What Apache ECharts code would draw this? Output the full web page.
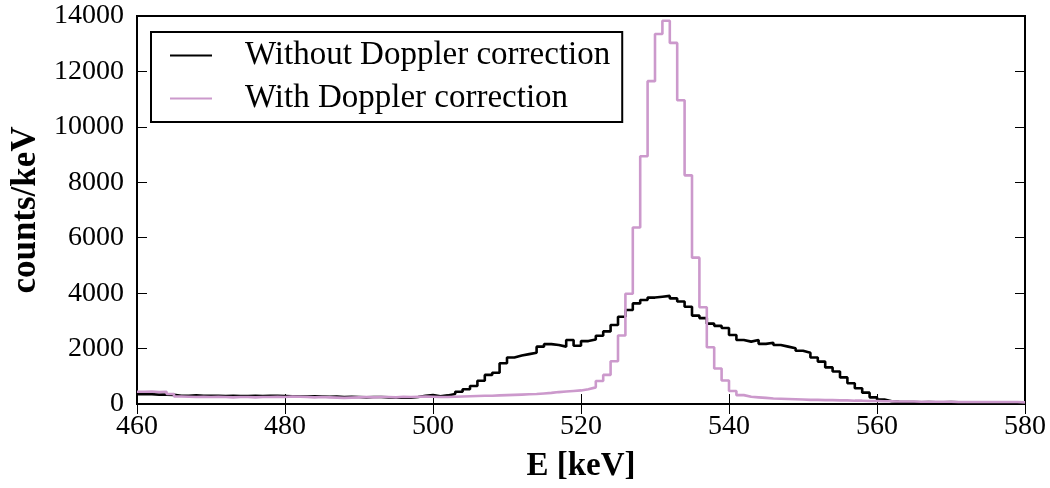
<!DOCTYPE html>
<html>
<head>
<meta charset="utf-8">
<script src="https://cdn.jsdelivr.net/npm/echarts@6/dist/echarts.min.js"></script>
<style>
html,body{margin:0;padding:0;background:#fff;}
#chart{width:1050px;height:488px;}
</style>
</head>
<body>
<div id="chart"></div>
<script>
// Histogram bins: 1 keV wide, starting at binStart
const binStart = 460;
const binWidth = 1;
const xTicks = [460, 480, 500, 520, 540, 560, 580];
const yTicks = [0, 2000, 4000, 6000, 8000, 10000, 12000, 14000];
const seriesNames = ['Without Doppler correction', 'With Doppler correction'];

// counts/keV, bins 460..579
const withoutDoppler = [
  350, 350, 340, 340, 330, 300, 300, 310, 300, 300,
  300, 290, 300, 290, 290, 300, 290, 300, 300, 290,
  280, 270, 270, 280, 270, 260, 270, 250, 260, 250,
  240, 250, 250, 240, 230, 240, 230, 250, 300, 320,
  280, 310, 360, 440, 530, 650, 840, 1050, 1130, 1470,
  1680, 1750, 1800, 1850, 2070, 2160, 2130, 2070, 2310, 2100,
  2270, 2330, 2460, 2620, 2850, 3150, 3390, 3630, 3750, 3840,
  3870, 3900, 3810, 3700, 3510, 3190, 3100, 2900, 2820, 2740,
  2490, 2310, 2250, 2310, 2170, 2210, 2130, 2070, 2010, 1920,
  1850, 1680, 1530, 1320, 1170, 960, 750, 570, 410, 240,
  160, 100, 80, 70, 70, 60, 70, 60, 60, 70,
  60, 60, 50, 60, 60, 50, 60, 50, 60, 50
];
const withDoppler = [
  440, 450, 430, 440, 360, 270, 260, 250, 260, 250,
  260, 250, 240, 250, 250, 240, 250, 250, 260, 250,
  270, 260, 250, 240, 250, 240, 230, 220, 230, 240,
  250, 240, 250, 250, 240, 260, 250, 260, 270, 260,
  250, 250, 260, 270, 280, 290, 300, 300, 310, 320,
  330, 340, 350, 360, 380, 400, 430, 450, 470, 490,
  530, 600, 830, 1050, 1540, 2470, 3980, 6370, 8940, 11650,
  13350, 13830, 13030, 10960, 8250, 5280, 3490, 2050, 1280, 850,
  470, 320, 260, 240, 220, 200, 190, 180, 170, 160,
  150, 150, 140, 140, 130, 130, 120, 120, 110, 110,
  100, 100, 90, 90, 90, 80, 80, 80, 80, 80,
  70, 70, 70, 70, 70, 70, 70, 70, 70, 60
];

function toSteps(counts) {
  const pts = counts.map((v, i) => [binStart + i * binWidth, v]);
  pts.push([binStart + counts.length * binWidth, counts[counts.length - 1]]);
  return pts;
}

const FONT = '"Liberation Serif", "DejaVu Serif", serif';
const chart = echarts.init(document.getElementById('chart'), null, {renderer: 'canvas'});

const axisCommon = {
  axisLine: {show: true, lineStyle: {color: '#000', width: 2}},
  axisTick: {show: true, inside: true, length: 10, lineStyle: {color: '#000', width: 1}},
  splitLine: {show: false}
};

chart.setOption({
  animation: false,
  backgroundColor: '#fff',
  grid: {left: 137, right: 25, top: 16, bottom: 84, containLabel: false, outerBoundsMode: 'none',
         show: true, borderColor: '#000', borderWidth: 2, backgroundColor: 'transparent'},
  legend: {
    data: seriesNames,
    orient: 'vertical',
    left: 151, top: 32,
    padding: [7, 12, 7, 19],
    itemGap: 10,
    itemWidth: 42, itemHeight: 2,
    icon: 'rect',
    backgroundColor: '#fff',
    borderColor: '#000', borderWidth: 2, borderRadius: 0,
    textStyle: {fontFamily: FONT, fontSize: 33, color: '#000', padding: [0, 0, 0, 28], lineHeight: 30}
  },
  xAxis: [
    Object.assign({
      type: 'value', min: xTicks[0], max: xTicks[xTicks.length - 1], interval: 20, position: 'bottom',
      name: 'E [keV]', nameLocation: 'middle', nameGap: 46,
      nameTextStyle: {fontFamily: FONT, fontSize: 33, fontWeight: 'bold', color: '#000'},
      axisLabel: {fontFamily: FONT, fontSize: 28, color: '#000', margin: 9, formatter: v => String(v)}
    }, axisCommon),
    Object.assign({
      type: 'value', min: xTicks[0], max: xTicks[xTicks.length - 1], interval: 20, position: 'top',
      axisLabel: {show: false}
    }, axisCommon)
  ],
  yAxis: [
    Object.assign({
      type: 'value', min: yTicks[0], max: yTicks[yTicks.length - 1], interval: 2000, position: 'left',
      name: 'counts/keV', nameLocation: 'middle', nameGap: 82,
      nameTextStyle: {fontFamily: FONT, fontSize: 35, fontWeight: 'bold', color: '#000'},
      axisLabel: {fontFamily: FONT, fontSize: 28, color: '#000', margin: 13, formatter: v => String(v)}
    }, axisCommon),
    Object.assign({
      type: 'value', min: yTicks[0], max: yTicks[yTicks.length - 1], interval: 2000, position: 'right',
      axisLabel: {show: false}
    }, axisCommon)
  ],
  series: [
    {
      name: seriesNames[0], type: 'line', step: 'end', symbol: 'none',
      data: toSteps(withoutDoppler),
      lineStyle: {color: '#000', width: 2.6},
      itemStyle: {color: '#000'},
      z: 2
    },
    {
      name: seriesNames[1], type: 'line', step: 'end', symbol: 'none',
      data: toSteps(withDoppler),
      lineStyle: {color: '#cc99cc', width: 2.6},
      itemStyle: {color: '#cc99cc'},
      z: 3
    }
  ]
});
</script>
</body>
</html>
